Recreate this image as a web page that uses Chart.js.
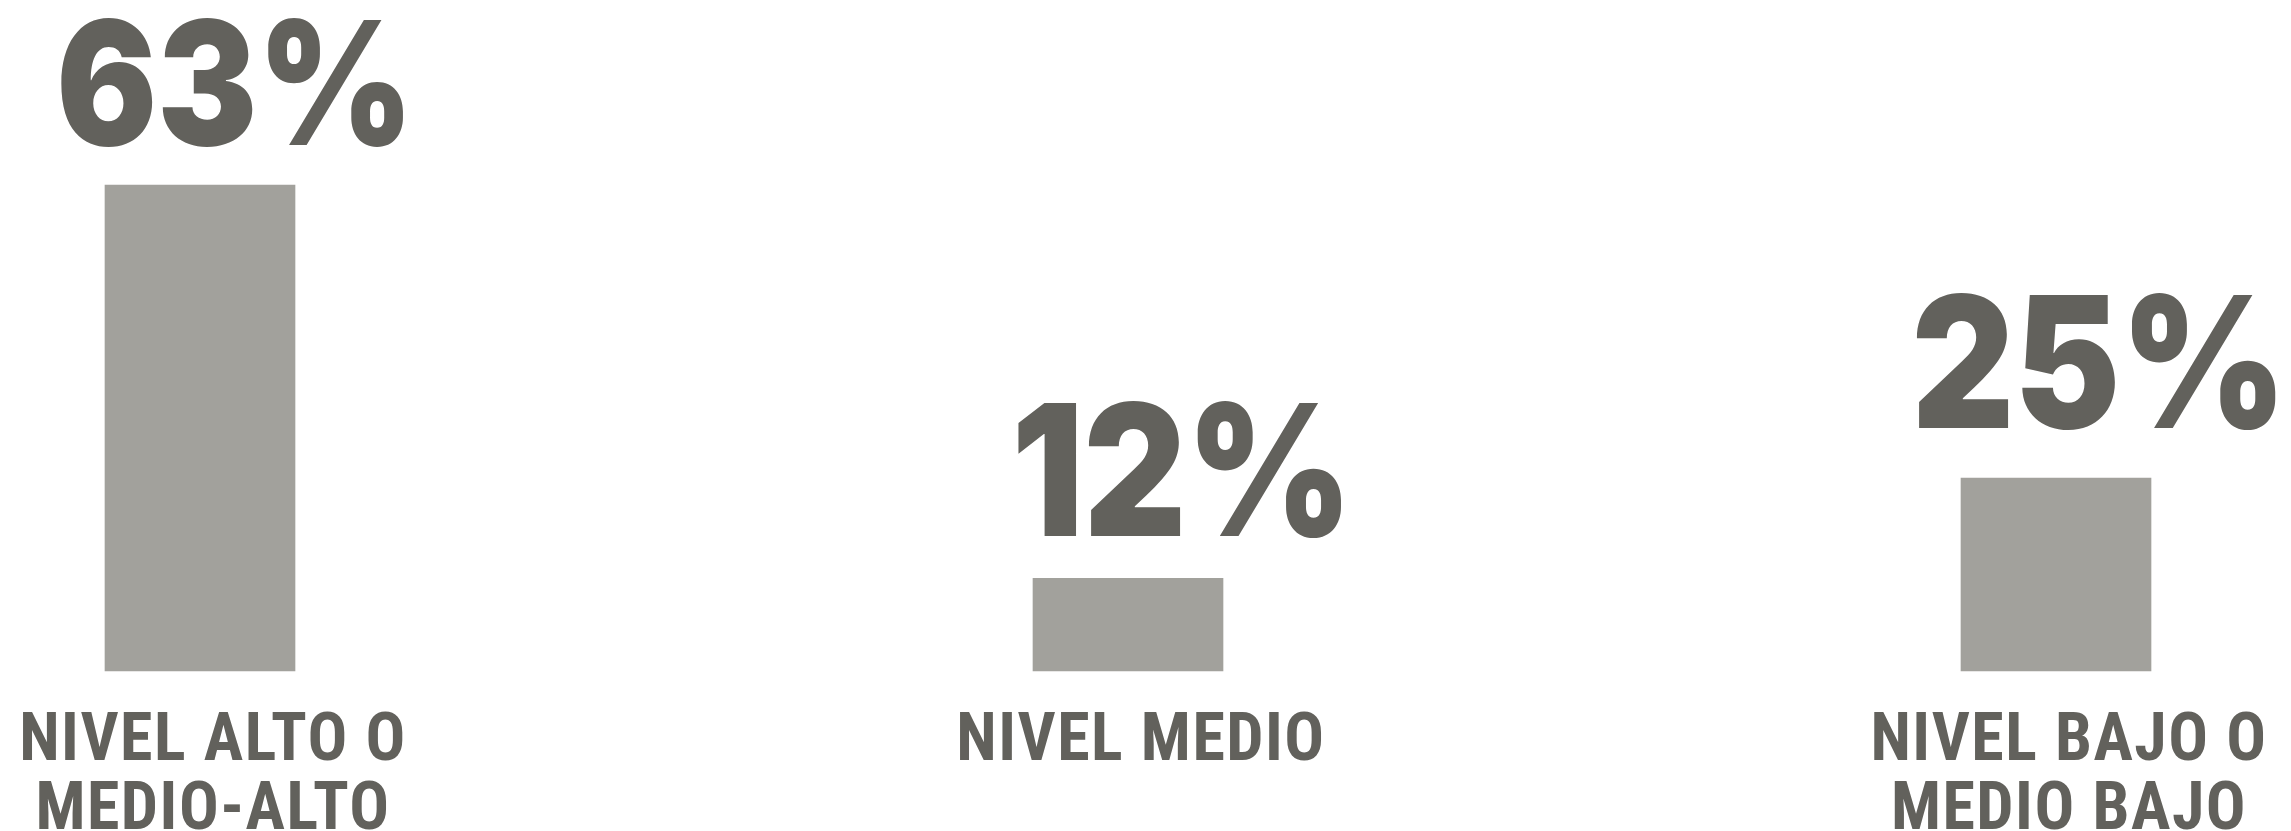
<!DOCTYPE html>
<html>
<head>
<meta charset="utf-8">
<script src="https://cdn.jsdelivr.net/npm/chart.js@4/dist/chart.umd.min.js"></script>
<style>
  html, body { margin: 0; padding: 0; background: #ffffff; }
  canvas { display: block; }
</style>
</head>
<body>
<canvas id="nivelChart" width="2291" height="831"></canvas>
<script>
// Data
var categories = [['NIVEL ALTO O', 'MEDIO-ALTO'], 'NIVEL MEDIO', ['NIVEL BAJO O', 'MEDIO BAJO']];
var percentages = [63, 12, 25];

var textColor = '#62615c';
var barColor = '#a2a19c';
// the big numbers are not set quite the same on each bar
var percentSize = [172, 183, 183];
var percentShift = [35, 54, 43];
var percentGap = [40, 42, 50];

// A little tracking on the category labels, like the original
Chart.register({
    id: 'label-tracking',
    beforeLayout: (chart) => { chart.ctx.letterSpacing = '1.5px'; },
    beforeDraw: (chart) => { chart.ctx.letterSpacing = '1.5px'; }
});

// Big percentage labels above each bar
Chart.register({
    id: 'percent-labels',
    afterDatasetsDraw: (chart) => {
        const ctx = chart.ctx;
        const meta = chart.getDatasetMeta(0);
        ctx.save();
        ctx.letterSpacing = '0px';
        ctx.fillStyle = textColor;
        ctx.textAlign = 'center';
        ctx.textBaseline = 'alphabetic';
        meta.data.forEach((bar, i) => {
            ctx.save();
            ctx.font = '900 ' + percentSize[i] + 'px Inter, Lato, sans-serif';
            ctx.translate(bar.x + percentShift[i], bar.y - percentGap[i]);
            ctx.scale(0.87, 1); // the original face is a bit narrower
            ctx.fillText(percentages[i] + '%', 0, 0);
            ctx.restore();
        });
        ctx.restore();
    }
});

var ctx = document.getElementById('nivelChart').getContext('2d');
var nivelChart = new Chart(ctx, {
    type: 'bar',
    data: {
        labels: categories,
        datasets: [{
            data: percentages,
            backgroundColor: barColor,
            barThickness: 190,
            clip: false
        }]
    },
    options: {
        responsive: false,
        animation: false,
        layout: {
            padding: { left: 200, right: 235, top: 0, bottom: 0 }
        },
        plugins: {
            legend: { display: false },
            tooltip: { enabled: false }
        },
        scales: {
            x: {
                offset: false,
                grid: { display: false, drawTicks: false },
                border: { display: false },
                // side padding comes from the layout, height is fixed
                afterFit: (scale) => {
                    scale.paddingLeft = 0;
                    scale.paddingRight = 0;
                    scale.height = 160;
                    if (!scale._nudged) {
                        // labels sit a bit right of the bar centres in the original
                        const draw = scale.drawLabels;
                        scale.drawLabels = function (area) {
                            this.ctx.save();
                            this.ctx.translate(13, 0);
                            draw.call(this, area);
                            this.ctx.restore();
                        };
                        scale._nudged = true;
                    }
                },
                ticks: {
                    autoSkip: false,
                    maxRotation: 0,
                    padding: 38,
                    color: textColor,
                    font: {
                        family: '"Liberation Sans Narrow", "Roboto Condensed", "DejaVu Sans Condensed", sans-serif',
                        size: 66,
                        weight: 'bold',
                        lineHeight: 1.045
                    }
                }
            },
            y: {
                display: false,
                min: 0,
                max: 87
            }
        }
    }
});
</script>
</body>
</html>
